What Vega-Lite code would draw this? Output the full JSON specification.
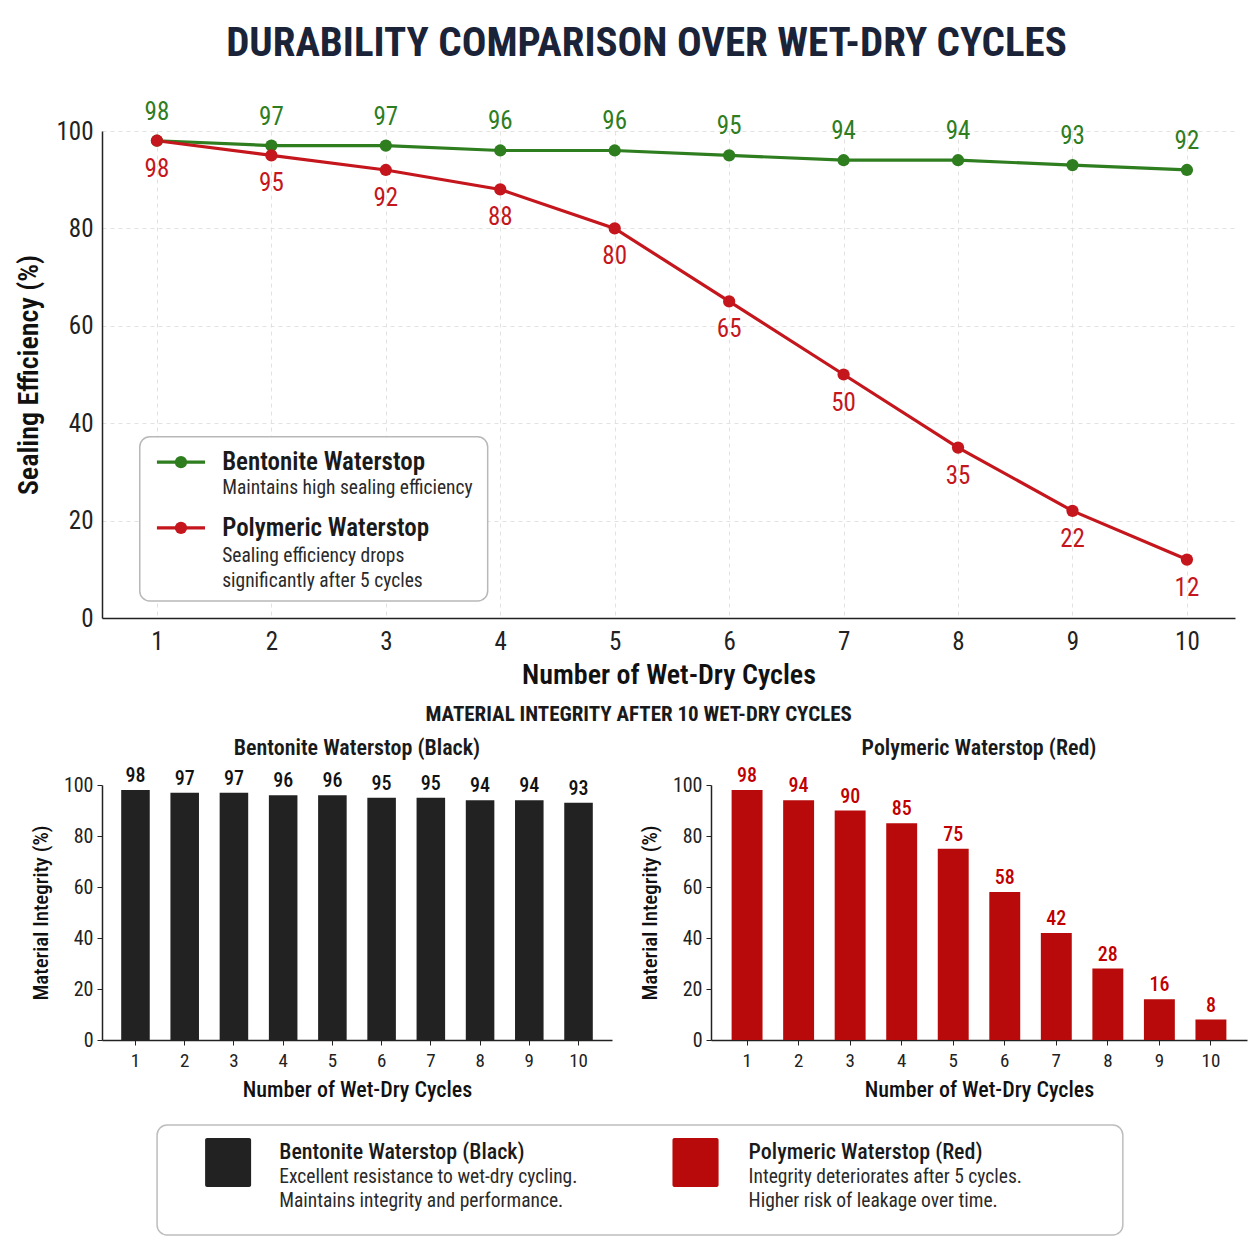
{
  "$schema": "https://vega.github.io/schema/vega-lite/v6.json",
  "background": "white",
  "padding": {"left": 15, "top": 22, "right": 10, "bottom": 6},
  "config": {
    "font": "Roboto Condensed, Liberation Sans Narrow, DejaVu Sans Condensed, Roboto, sans-serif",
    "view": {"stroke": null},
    "axis": {
      "labelFont": "Roboto Condensed, Liberation Sans Narrow, DejaVu Sans Condensed, Roboto, sans-serif",
      "titleFont": "Roboto Condensed, Liberation Sans Narrow, DejaVu Sans Condensed, Roboto, sans-serif",
      "domainColor": "#222222",
      "tickColor": "#222222",
      "labelColor": "#222222",
      "titleColor": "#111111"
    },
    "title": {"font": "Roboto Condensed, Liberation Sans Narrow, DejaVu Sans Condensed, Roboto, sans-serif"}
  },
  "title": {
    "text": "DURABILITY COMPARISON OVER WET-DRY CYCLES",
    "fontSize": 41,
    "fontWeight": "bold",
    "color": "#1b2338",
    "anchor": "middle",
    "dx": 15,
    "offset": 35
  },
  "datasets": {
    "efficiency": [
      {"cycle": 1, "series": "Bentonite Waterstop", "value": 98},
      {"cycle": 2, "series": "Bentonite Waterstop", "value": 97},
      {"cycle": 3, "series": "Bentonite Waterstop", "value": 97},
      {"cycle": 4, "series": "Bentonite Waterstop", "value": 96},
      {"cycle": 5, "series": "Bentonite Waterstop", "value": 96},
      {"cycle": 6, "series": "Bentonite Waterstop", "value": 95},
      {"cycle": 7, "series": "Bentonite Waterstop", "value": 94},
      {"cycle": 8, "series": "Bentonite Waterstop", "value": 94},
      {"cycle": 9, "series": "Bentonite Waterstop", "value": 93},
      {"cycle": 10, "series": "Bentonite Waterstop", "value": 92},
      {"cycle": 1, "series": "Polymeric Waterstop", "value": 98},
      {"cycle": 2, "series": "Polymeric Waterstop", "value": 95},
      {"cycle": 3, "series": "Polymeric Waterstop", "value": 92},
      {"cycle": 4, "series": "Polymeric Waterstop", "value": 88},
      {"cycle": 5, "series": "Polymeric Waterstop", "value": 80},
      {"cycle": 6, "series": "Polymeric Waterstop", "value": 65},
      {"cycle": 7, "series": "Polymeric Waterstop", "value": 50},
      {"cycle": 8, "series": "Polymeric Waterstop", "value": 35},
      {"cycle": 9, "series": "Polymeric Waterstop", "value": 22},
      {"cycle": 10, "series": "Polymeric Waterstop", "value": 12}
    ],
    "integrity": [
      {"cycle": 1, "material": "Bentonite", "value": 98},
      {"cycle": 2, "material": "Bentonite", "value": 97},
      {"cycle": 3, "material": "Bentonite", "value": 97},
      {"cycle": 4, "material": "Bentonite", "value": 96},
      {"cycle": 5, "material": "Bentonite", "value": 96},
      {"cycle": 6, "material": "Bentonite", "value": 95},
      {"cycle": 7, "material": "Bentonite", "value": 95},
      {"cycle": 8, "material": "Bentonite", "value": 94},
      {"cycle": 9, "material": "Bentonite", "value": 94},
      {"cycle": 10, "material": "Bentonite", "value": 93},
      {"cycle": 1, "material": "Polymeric", "value": 98},
      {"cycle": 2, "material": "Polymeric", "value": 94},
      {"cycle": 3, "material": "Polymeric", "value": 90},
      {"cycle": 4, "material": "Polymeric", "value": 85},
      {"cycle": 5, "material": "Polymeric", "value": 75},
      {"cycle": 6, "material": "Polymeric", "value": 58},
      {"cycle": 7, "material": "Polymeric", "value": 42},
      {"cycle": 8, "material": "Polymeric", "value": 28},
      {"cycle": 9, "material": "Polymeric", "value": 16},
      {"cycle": 10, "material": "Polymeric", "value": 8}
    ]
  },
  "spacing": 15,
  "vconcat": [
    {
      "width": 1133,
      "height": 487,
      "layer": [
        {
          "data": {"name": "efficiency"},
          "mark": {"type": "line", "strokeWidth": 3.2},
          "encoding": {
            "x": {
              "field": "cycle",
              "type": "quantitative",
              "scale": {"domain": [0.52, 10.42], "nice": false, "zero": false},
              "axis": {
                "values": [1, 2, 3, 4, 5, 6, 7, 8, 9, 10],
                "format": "d",
                "title": "Number of Wet-Dry Cycles",
                "labelFontSize": 25,
                "titleFontSize": 28,
                "titleFontWeight": 600,
                "grid": true,
                "gridDash": [4, 4],
                "gridColor": "#e2e2e2",
                "ticks": false,
                "labelPadding": 11,
                "titlePadding": 7,
                "domainWidth": 1.5
              }
            },
            "y": {
              "field": "value",
              "type": "quantitative",
              "scale": {"domain": [0, 100]},
              "axis": {
                "values": [0, 20, 40, 60, 80, 100],
                "title": "Sealing Efficiency (%)",
                "labelFontSize": 25,
                "titleFontSize": 28,
                "titleFontWeight": 600,
                "grid": true,
                "gridDash": [4, 4],
                "gridColor": "#e2e2e2",
                "ticks": false,
                "labelPadding": 9,
                "titlePadding": 12,
                "domainWidth": 1.5
              }
            },
            "color": {
              "field": "series",
              "type": "nominal",
              "scale": {"domain": ["Bentonite Waterstop", "Polymeric Waterstop"], "range": ["#2e7d1f", "#c4161c"]},
              "legend": null
            }
          }
        },
        {
          "data": {"name": "efficiency"},
          "mark": {"type": "point", "filled": true, "size": 150, "opacity": 1},
          "encoding": {
            "x": {"field": "cycle", "type": "quantitative"},
            "y": {"field": "value", "type": "quantitative"},
            "color": {"field": "series", "type": "nominal", "legend": null}
          }
        },
        {
          "data": {"name": "efficiency"},
          "transform": [{"filter": "datum.series == 'Bentonite Waterstop'"}],
          "mark": {"type": "text", "dy": -29, "fontSize": 25, "fontWeight": 400, "color": "#2e7d1f"},
          "encoding": {
            "x": {"field": "cycle", "type": "quantitative"},
            "y": {"field": "value", "type": "quantitative"},
            "text": {"field": "value", "type": "quantitative"}
          }
        },
        {
          "data": {"name": "efficiency"},
          "transform": [{"filter": "datum.series == 'Polymeric Waterstop'"}],
          "mark": {"type": "text", "dy": 28, "fontSize": 25, "fontWeight": 400, "color": "#c4161c"},
          "encoding": {
            "x": {"field": "cycle", "type": "quantitative"},
            "y": {"field": "value", "type": "quantitative"},
            "text": {"field": "value", "type": "quantitative"}
          }
        },
        {
          "data": {"values": [{"n": 1}]},
          "mark": {"type": "rect", "fill": "white", "stroke": "#b8b8b8", "strokeWidth": 1.5, "cornerRadius": 10},
          "encoding": {"x": {"datum": 0.85}, "x2": {"datum": 3.89}, "y": {"datum": 37.2}, "y2": {"datum": 3.5}}
        },
        {
          "data": {"values": [{"n": 1}]},
          "mark": {"type": "rule", "color": "#2e7d1f", "strokeWidth": 3.2},
          "encoding": {"x": {"datum": 1.0}, "x2": {"datum": 1.42}, "y": {"datum": 32}}
        },
        {
          "data": {"values": [{"n": 1}]},
          "mark": {"type": "point", "filled": true, "size": 150, "opacity": 1, "color": "#2e7d1f"},
          "encoding": {"x": {"datum": 1.21}, "y": {"datum": 32}}
        },
        {
          "data": {"values": [{"n": 1}]},
          "mark": {"type": "rule", "color": "#c4161c", "strokeWidth": 3.2},
          "encoding": {"x": {"datum": 1.0}, "x2": {"datum": 1.42}, "y": {"datum": 18.5}}
        },
        {
          "data": {"values": [{"n": 1}]},
          "mark": {"type": "point", "filled": true, "size": 150, "opacity": 1, "color": "#c4161c"},
          "encoding": {"x": {"datum": 1.21}, "y": {"datum": 18.5}}
        },
        {
          "data": {"values": [{"n": 1}]},
          "mark": {"type": "text", "text": "Bentonite Waterstop", "align": "left", "baseline": "middle", "fontSize": 25, "fontWeight": 600, "color": "#1a1a1a"},
          "encoding": {"x": {"datum": 1.57}, "y": {"datum": 32}}
        },
        {
          "data": {"values": [{"n": 1}]},
          "mark": {"type": "text", "text": "Maintains high sealing efficiency", "align": "left", "baseline": "middle", "fontSize": 19.5, "color": "#2a2a2a"},
          "encoding": {"x": {"datum": 1.57}, "y": {"datum": 26.7}}
        },
        {
          "data": {"values": [{"n": 1}]},
          "mark": {"type": "text", "text": "Polymeric Waterstop", "align": "left", "baseline": "middle", "fontSize": 25, "fontWeight": 600, "color": "#1a1a1a"},
          "encoding": {"x": {"datum": 1.57}, "y": {"datum": 18.5}}
        },
        {
          "data": {"values": [{"n": 1}]},
          "mark": {"type": "text", "text": "Sealing efficiency drops", "align": "left", "baseline": "middle", "fontSize": 19.5, "color": "#2a2a2a"},
          "encoding": {"x": {"datum": 1.57}, "y": {"datum": 12.7}}
        },
        {
          "data": {"values": [{"n": 1}]},
          "mark": {"type": "text", "text": "significantly after 5 cycles", "align": "left", "baseline": "middle", "fontSize": 19.5, "color": "#2a2a2a"},
          "encoding": {"x": {"datum": 1.57}, "y": {"datum": 7.6}}
        }
      ]
    },
    {
      "spacing": 24,
      "vconcat": [
        {
          "title": {
            "text": "MATERIAL INTEGRITY AFTER 10 WET-DRY CYCLES",
            "fontSize": 21,
            "fontWeight": "bold",
            "color": "#1a1a1a",
            "anchor": "middle",
            "offset": 12
          },
          "spacing": 27,
          "hconcat": [
            {
              "width": 510,
              "height": 255,
              "title": {"text": "Bentonite Waterstop (Black)", "fontSize": 22, "fontWeight": 600, "color": "#1a1a1a", "offset": 6},
              "data": {"name": "integrity"},
              "transform": [{"filter": "datum.material == 'Bentonite'"}],
              "encoding": {
                "x": {
                  "field": "cycle",
                  "type": "ordinal",
                  "scale": {"paddingInner": 0.42, "paddingOuter": 0.39},
                  "axis": {"labelAngle": 0, "title": "Number of Wet-Dry Cycles", "labelFontSize": 19, "titleFontSize": 22, "titleFontWeight": 500, "tickSize": 5, "labelPadding": 6, "titlePadding": 9, "domainWidth": 1.5}
                },
                "y": {
                  "field": "value",
                  "type": "quantitative",
                  "scale": {"domain": [0, 100]},
                  "axis": {"values": [0, 20, 40, 60, 80, 100], "title": "Material Integrity (%)", "labelFontSize": 20, "titleFontSize": 21, "titleFontWeight": 500, "grid": false, "tickSize": 5, "labelPadding": 4, "titlePadding": 12, "domainWidth": 1.5}
                }
              },
              "layer": [
                {"mark": {"type": "bar", "color": "#222222"}},
                {
                  "mark": {"type": "text", "baseline": "bottom", "dy": -4, "fontSize": 20, "fontWeight": 500, "color": "#111111"},
                  "encoding": {"text": {"field": "value", "type": "quantitative"}}
                }
              ]
            },
            {
              "width": 536,
              "height": 255,
              "title": {"text": "Polymeric Waterstop (Red)", "fontSize": 22, "fontWeight": 600, "color": "#1a1a1a", "offset": 6},
              "data": {"name": "integrity"},
              "transform": [{"filter": "datum.material == 'Polymeric'"}],
              "encoding": {
                "x": {
                  "field": "cycle",
                  "type": "ordinal",
                  "scale": {"paddingInner": 0.4, "paddingOuter": 0.4},
                  "axis": {"labelAngle": 0, "title": "Number of Wet-Dry Cycles", "labelFontSize": 19, "titleFontSize": 22, "titleFontWeight": 500, "tickSize": 5, "labelPadding": 6, "titlePadding": 9, "domainWidth": 1.5}
                },
                "y": {
                  "field": "value",
                  "type": "quantitative",
                  "scale": {"domain": [0, 100]},
                  "axis": {"values": [0, 20, 40, 60, 80, 100], "title": "Material Integrity (%)", "labelFontSize": 20, "titleFontSize": 21, "titleFontWeight": 500, "grid": false, "tickSize": 5, "labelPadding": 4, "titlePadding": 12, "domainWidth": 1.5}
                }
              },
              "layer": [
                {"mark": {"type": "bar", "color": "#b80a0a"}},
                {
                  "mark": {"type": "text", "baseline": "bottom", "dy": -4, "fontSize": 20, "fontWeight": 500, "color": "#c00000"},
                  "encoding": {"text": {"field": "value", "type": "quantitative"}}
                }
              ]
            }
          ]
        },
        {
          "width": 1133,
          "height": 110,
          "data": {"values": [{"n": 1}]},
          "layer": [
            {
              "mark": {"type": "rect", "fill": "white", "stroke": "#bdbdbd", "strokeWidth": 1.5, "cornerRadius": 10},
              "encoding": {
                "x": {"datum": 4.86, "type": "quantitative", "scale": {"domain": [0, 100], "nice": false}, "axis": null},
                "x2": {"datum": 90.1},
                "y": {"datum": 0, "type": "quantitative", "scale": {"domain": [0, 100], "nice": false}, "axis": null},
                "y2": {"datum": 100}
              }
            },
            {
              "mark": {"type": "rect", "fill": "#222222", "cornerRadius": 2},
              "encoding": {"x": {"datum": 9.1}, "x2": {"datum": 13.16}, "y": {"datum": 88.2}, "y2": {"datum": 43.6}}
            },
            {
              "mark": {"type": "rect", "fill": "#b80a0a", "cornerRadius": 2},
              "encoding": {"x": {"datum": 50.35}, "x2": {"datum": 54.42}, "y": {"datum": 88.2}, "y2": {"datum": 43.6}}
            },
            {
              "mark": {"type": "text", "text": "Bentonite Waterstop (Black)", "align": "left", "baseline": "middle", "fontSize": 22, "fontWeight": 500, "color": "#1a1a1a"},
              "encoding": {"x": {"datum": 15.64}, "y": {"datum": 75.5}}
            },
            {
              "mark": {"type": "text", "text": "Excellent resistance to wet-dry cycling.", "align": "left", "baseline": "middle", "fontSize": 19.5, "color": "#2a2a2a"},
              "encoding": {"x": {"datum": 15.64}, "y": {"datum": 52.7}}
            },
            {
              "mark": {"type": "text", "text": "Maintains integrity and performance.", "align": "left", "baseline": "middle", "fontSize": 19.5, "color": "#2a2a2a"},
              "encoding": {"x": {"datum": 15.64}, "y": {"datum": 30.9}}
            },
            {
              "mark": {"type": "text", "text": "Polymeric Waterstop (Red)", "align": "left", "baseline": "middle", "fontSize": 22, "fontWeight": 500, "color": "#1a1a1a"},
              "encoding": {"x": {"datum": 57.07}, "y": {"datum": 75.5}}
            },
            {
              "mark": {"type": "text", "text": "Integrity deteriorates after 5 cycles.", "align": "left", "baseline": "middle", "fontSize": 19.5, "color": "#2a2a2a"},
              "encoding": {"x": {"datum": 57.07}, "y": {"datum": 52.7}}
            },
            {
              "mark": {"type": "text", "text": "Higher risk of leakage over time.", "align": "left", "baseline": "middle", "fontSize": 19.5, "color": "#2a2a2a"},
              "encoding": {"x": {"datum": 57.07}, "y": {"datum": 30.9}}
            }
          ]
        }
      ]
    }
  ]
}
